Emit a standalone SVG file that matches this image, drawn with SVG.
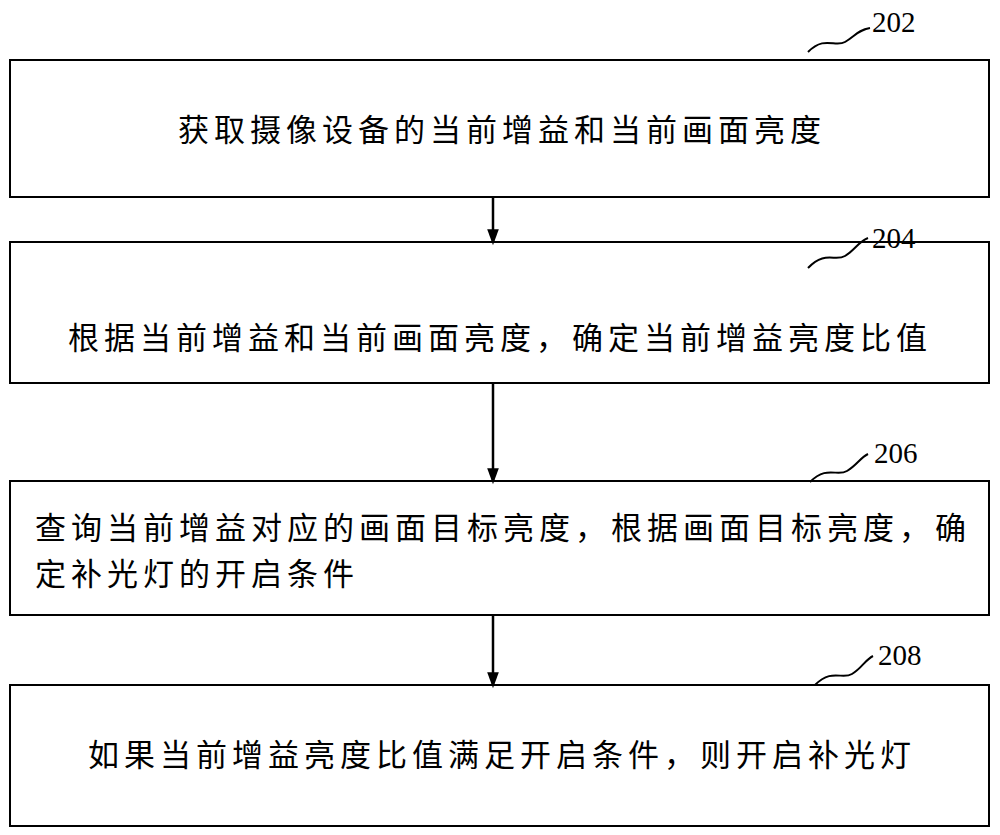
<svg xmlns="http://www.w3.org/2000/svg" width="1000" height="835" viewBox="0 0 1000 835">
<style>
.box{fill:#fff;stroke:#000;stroke-width:2}
.t{font-family:"Noto Sans CJK SC","Liberation Sans",sans-serif;font-size:31px;letter-spacing:5px;fill:#000}
.n{font-family:"Liberation Serif",serif;font-size:29px;fill:#000}
.w{fill:none;stroke:#000;stroke-width:2}
.c{stroke:#000;stroke-width:2.5;fill:none}
</style>
<defs><marker id="a" viewBox="0 0 16 22" refX="16" refY="11" markerWidth="22" markerHeight="16" markerUnits="userSpaceOnUse" orient="auto"><path d="M0,0L16,11L0,22z" transform="matrix(1.375,0,0,0.727,0,3)" fill="#000"/></marker></defs>
<rect width="1000" height="835" fill="#fff"/>
<g id="n202"><rect class="box" x="10" y="60" width="979" height="137"/><text class="t" x="178" y="141">获取摄像设备的当前增益和当前画面亮度</text><path class="w" d="M808,52 C825,35 835,48 845,42 S858,30 870,28"/><text class="n" x="872" y="32">202</text></g>
<g id="n204"><rect class="box" x="10" y="242" width="979" height="141"/><text class="t" x="68" y="349">根据当前增益和当前画面亮度，确定当前增益亮度比值</text><path class="w" d="M808,268 C825,250 835,262 845,256 S858,242 868,238"/><text class="n" x="872" y="248">204</text></g>
<g id="n206"><rect class="box" x="10" y="481" width="979" height="134"/><text class="t" x="35" y="539">查询当前增益对应的画面目标亮度，根据画面目标亮度，确</text><text class="t" x="35" y="585">定补光灯的开启条件</text><path class="w" d="M810,482 C827,465 837,477 847,471 S860,458 868,454"/><text class="n" x="874" y="463">206</text></g>
<g id="n208"><rect class="box" x="10" y="685" width="979" height="141"/><text class="t" x="88" y="766">如果当前增益亮度比值满足开启条件，则开启补光灯</text><path class="w" d="M815,685 C832,668 842,680 852,674 S865,660 873,656"/><text class="n" x="878" y="665">208</text></g>
<g id="connectors">
<line class="c" x1="493" y1="197" x2="493" y2="241" marker-end="url(#a)"/>
<line class="c" x1="493" y1="383" x2="493" y2="480" marker-end="url(#a)"/>
<line class="c" x1="493" y1="615" x2="493" y2="684" marker-end="url(#a)"/>
</g>
</svg>
